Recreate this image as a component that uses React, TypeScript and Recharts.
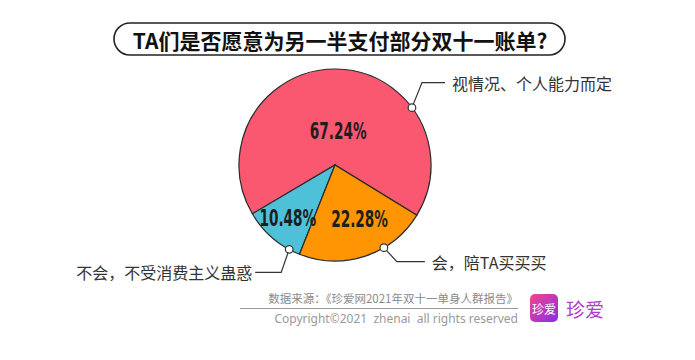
import { PieChart, Pie, Cell } from 'recharts';

// answer categories and their share (%)
const categories = ['视情况、个人能力而定', '不会，不受消费主义蛊惑', '会，陪TA买买买'];
const shares = [67.24, 10.48, 22.28];
const colors = ['#FA5871', '#4EC0D7', '#FF9502'];

const data = categories.map((name, i) => ({ name, value: shares[i] }));

// label layout per slice: where the leader starts on the rim, elbow offset, line end, and where the % sits
const leaderAngles = [36.7, 241.5, -59.4];
const elbows = [
  { dx: 10, dy: -25, run: 23 },
  { dx: -8, dy: 23, run: -26 },
  { dx: 13, dy: 14, run: 28 },
];
const pctRadius = [0.35, 0.74, 0.62];
const pctAngleShift = [-5, -1, 6];

const RAD = Math.PI / 180;

const SliceLabel = (props: any) => {
  const { cx, cy, outerRadius, midAngle, index } = props;
  const a = leaderAngles[index] * RAD;
  const x0 = cx + outerRadius * Math.cos(a);
  const y0 = cy - outerRadius * Math.sin(a);
  const e = elbows[index];
  const x1 = x0 + e.dx;
  const y1 = y0 + e.dy;
  const x2 = x1 + e.run;
  const right = e.run > 0;

  const pa = (midAngle + pctAngleShift[index]) * RAD;
  const pr = outerRadius * pctRadius[index];
  const px = cx + pr * Math.cos(pa);
  const py = cy - pr * Math.sin(pa);

  return (
    <g>
      {/* condensed look: squeeze a bold face horizontally */}
      <text
        x={0}
        y={0}
        transform={`translate(${px},${py}) scale(0.66,1)`}
        textAnchor="middle"
        dominantBaseline="central"
        fontFamily="'DejaVu Sans Condensed', 'DejaVu Sans'"
        fontWeight="bold"
        fontSize={23}
        fill="#1e1e1e"
      >
        {shares[index].toFixed(2)}%
      </text>
      <polyline points={`${x0},${y0} ${x1},${y1} ${x2},${y1}`} fill="none" stroke="#333" strokeWidth={1.2} />
      <circle cx={x0} cy={y0} r={3.8} fill="#fff" stroke="#333" strokeWidth={1.2} />
      <text
        x={right ? x2 + 7 : x2 - 3}
        y={y1}
        textAnchor={right ? 'start' : 'end'}
        dominantBaseline="central"
        fontFamily="'Noto Sans CJK SC'"
        fontSize={16}
        fill="#333"
      >
        {categories[index]}
      </text>
    </g>
  );
};

export default function App() {
  return (
    <div style={{ position: 'absolute', left: 0, top: 0, width: 695, height: 360, background: '#fff' }}>
      <svg width={695} height={360} style={{ position: 'absolute', left: 0, top: 0 }}>
        <rect x={114} y={23} width={451} height={32} rx={16} fill="#fff" stroke="#222" strokeWidth={1.6} />
        <text
          x={340}
          y={39.5}
          textAnchor="middle"
          dominantBaseline="central"
          fontFamily="'Noto Sans CJK SC'"
          fontWeight={700}
          fontSize={21}
          fill="#111"
        >
          TA们是否愿意为另一半支付部分双十一账单?
        </text>

        <text
          x={518}
          y={298}
          textAnchor="end"
          dominantBaseline="central"
          fontFamily="'Noto Sans CJK SC'"
          fontSize={11.5}
          fill="#8a8a8a"
        >
          数据来源：《珍爱网2021年双十一单身人群报告》
        </text>
        <line x1={240} y1={308.5} x2={518} y2={308.5} stroke="#9a9a9a" strokeWidth={1} />
        <text
          x={518}
          y={318}
          textAnchor="end"
          dominantBaseline="central"
          fontFamily="'Noto Sans'"
          fontSize={12}
          fill="#9a9a9a"
          style={{ whiteSpace: 'pre' }}
        >
          Copyright©2021  zhenai  all rights reserved
        </text>

        <defs>
          <linearGradient id="logoGrad" x1="0" y1="0" x2="1" y2="1">
            <stop offset="0%" stopColor="#F5468A" />
            <stop offset="100%" stopColor="#8A2BEA" />
          </linearGradient>
        </defs>
        <rect x={530} y={294} width={28} height={28} rx={5} fill="url(#logoGrad)" />
        <text
          x={544}
          y={308}
          textAnchor="middle"
          dominantBaseline="central"
          fontFamily="'Noto Sans CJK SC'"
          fontSize={12}
          fill="#fff"
        >
          珍爱
        </text>
        <text
          x={566}
          y={308}
          dominantBaseline="central"
          fontFamily="'Noto Sans CJK SC'"
          fontSize={19}
          fill="#B03DC6"
        >
          珍爱
        </text>
      </svg>

      <div style={{ position: 'absolute', left: 0, top: 0 }}>
        <PieChart width={695} height={360} margin={{ top: 0, right: 0, bottom: 0, left: 0 }}>
          <Pie
            data={data}
            dataKey="value"
            nameKey="name"
            cx={335}
            cy={165}
            outerRadius={96}
            startAngle={-31.5}
            endAngle={328.5}
            stroke="#2a2a2a"
            strokeWidth={1.2}
            label={SliceLabel}
            labelLine={false}
            isAnimationActive={false}
          >
            {data.map((d, i) => (
              <Cell key={d.name} fill={colors[i]} />
            ))}
          </Pie>
        </PieChart>
      </div>
    </div>
  );
}
